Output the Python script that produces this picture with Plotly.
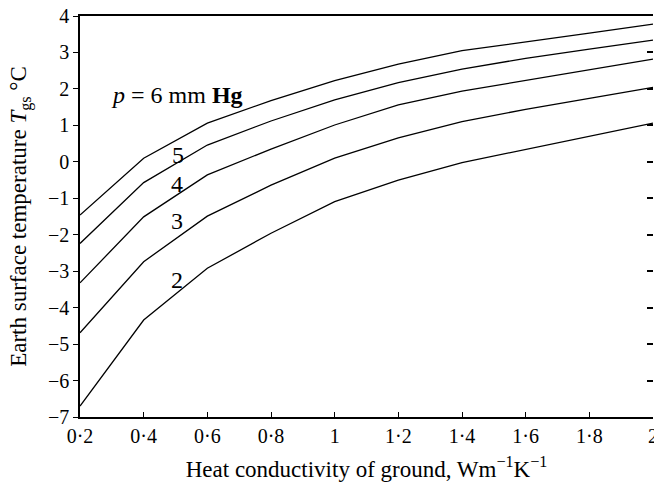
import plotly.graph_objects as go

conductivity = [0.2, 0.4, 0.6, 0.8, 1.0, 1.2, 1.4, 1.6, 1.8, 2.0]
temp_p6 = [-1.46, 0.10, 1.06, 1.68, 2.23, 2.68, 3.05, 3.28, 3.53, 3.78]
temp_p5 = [-2.24, -0.57, 0.46, 1.12, 1.70, 2.17, 2.54, 2.84, 3.09, 3.34]
temp_p4 = [-3.32, -1.51, -0.36, 0.35, 1.01, 1.56, 1.94, 2.24, 2.54, 2.82]
temp_p3 = [-4.69, -2.74, -1.49, -0.64, 0.10, 0.66, 1.10, 1.44, 1.74, 2.04]
temp_p2 = [-6.70, -4.34, -2.92, -1.96, -1.09, -0.50, -0.02, 0.34, 0.69, 1.06]

series = {"6": temp_p6, "5": temp_p5, "4": temp_p4, "3": temp_p3, "2": temp_p2}

x_tickvals = [0.2, 0.4, 0.6, 0.8, 1.0, 1.2, 1.4, 1.6, 1.8, 2.0]
x_ticktext = ["0·2", "0·4", "0·6", "0·8", "1", "1·2", "1·4", "1·6", "1·8", "2"]
y_tickvals = [-7, -6, -5, -4, -3, -2, -1, 0, 1, 2, 3, 4]
y_ticktext = ["−7", "−6", "−5", "−4", "−3", "−2", "−1", "0", "1", "2", "3", "4"]

FONT = "Liberation Serif"

fig = go.Figure()
for name, vals in series.items():
    fig.add_trace(go.Scatter(x=conductivity, y=vals, mode="lines",
                             line=dict(color="black", width=1.3),
                             showlegend=False, hoverinfo="skip"))
# invisible trace for the right-hand tick axis
fig.add_trace(go.Scatter(x=conductivity, y=temp_p6, yaxis="y2", mode="lines",
                         line=dict(color="rgba(0,0,0,0)"), showlegend=False,
                         hoverinfo="skip"))

# curve labels
labels = [("<i>p</i> = 6 mm <b>Hg</b>", 0.505, 1.83),
          ("5", 0.508, 0.19), ("4", 0.505, -0.61),
          ("3", 0.505, -1.62), ("2", 0.505, -3.24)]
for txt, ax, ay in labels:
    fig.add_annotation(x=ax, y=ay, text=txt, showarrow=False,
                       font=dict(family=FONT, size=24, color="black"))

fig.update_layout(
    width=654, height=482,
    margin=dict(l=80, r=1, t=16, b=65),
    paper_bgcolor="white", plot_bgcolor="white",
    font=dict(family=FONT, size=20, color="black"),
    xaxis=dict(range=[0.2, 2.0], tickvals=x_tickvals, ticktext=x_ticktext,
               ticks="inside", ticklen=5, tickwidth=1.2, tickcolor="black",
               showline=True, linecolor="black", linewidth=1.5, mirror=True,
               showgrid=False, zeroline=False, automargin=False,
               ticklabeloverflow="allow",
               tickfont=dict(family=FONT, size=20),
               title=dict(text="Heat conductivity of ground, Wm<sup>−1</sup>K<sup>−1</sup>",
                          font=dict(family=FONT, size=23))),
    yaxis=dict(range=[-7, 4], tickvals=y_tickvals, ticktext=y_ticktext,
               ticks="outside", ticklen=5, tickwidth=1.2, tickcolor="black",
               showline=True, linecolor="black", linewidth=1.5,
               showgrid=False, zeroline=False, automargin=False,
               ticklabeloverflow="allow",
               tickfont=dict(family=FONT, size=20),
               title=dict(text="Earth surface temperature <i>T</i><sub>gs</sub> °C",
                          font=dict(family=FONT, size=23))),
    yaxis2=dict(range=[-7, 4], tickvals=y_tickvals, overlaying="y", side="right",
                ticks="inside", ticklen=6, tickwidth=1.8, tickcolor="black",
                showticklabels=False, showline=False, showgrid=False,
                zeroline=False, automargin=False),
)

fig.write_html("out.html", config={"displayModeBar": False},
               post_script="document.body.style.margin='0';")
